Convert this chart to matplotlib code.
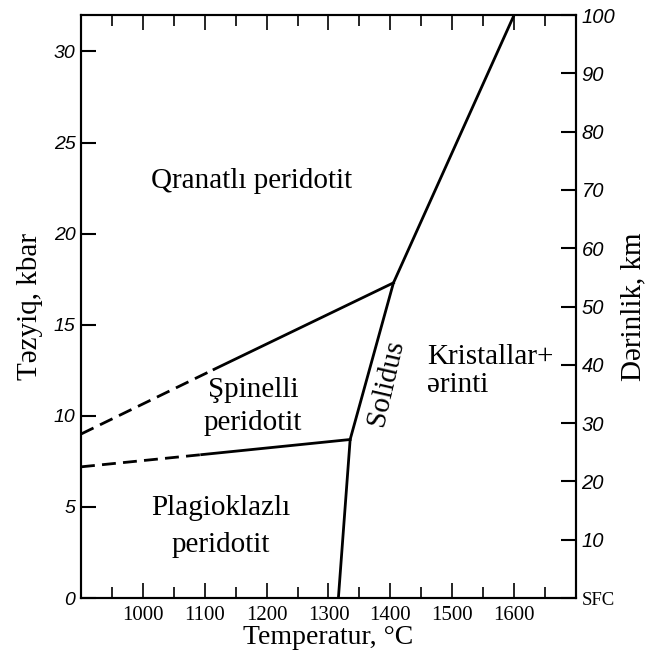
import matplotlib.pyplot as plt

# phase boundaries (T in C, P in kbar)
solidus_T = [1316, 1335, 1405, 1600]
solidus_P = [0, 8.7, 17.3, 32]

spinel_top_dash_T = [900, 1115]
spinel_top_dash_P = [9.0, 12.55]
spinel_top_T = [1115, 1405]
spinel_top_P = [12.55, 17.3]

plag_top_dash_T = [900, 1095]
plag_top_dash_P = [7.2, 7.87]
plag_top_T = [1095, 1335]
plag_top_P = [7.87, 8.7]

x_ticks = [1000, 1100, 1200, 1300, 1400, 1500, 1600]
x_minor = [950, 1050, 1150, 1250, 1350, 1450, 1550, 1650]
y_ticks = [0, 5, 10, 15, 20, 25, 30]
km_ticks = [0, 10, 20, 30, 40, 50, 60, 70, 80, 90, 100]
km_labels = ["SFC", "10", "20", "30", "40", "50", "60", "70", "80", "90", "100"]

serif = "Liberation Serif"
sans = "Liberation Sans"

fig = plt.figure(figsize=(6.46, 6.56), dpi=100)
ax = fig.add_axes([0.1254, 0.0884, 0.7662, 0.8887])

lw = 2.0
ax.plot(solidus_T, solidus_P, color="black", lw=lw, solid_joinstyle="miter")
ax.plot(spinel_top_T, spinel_top_P, color="black", lw=lw)
ax.plot(spinel_top_dash_T, spinel_top_dash_P, color="black", lw=lw, dashes=(5, 2.6))
ax.plot(plag_top_T, plag_top_P, color="black", lw=lw)
ax.plot(plag_top_dash_T, plag_top_dash_P, color="black", lw=lw, dashes=(5, 2.6))

ax.set_xlim(900, 1700)
ax.set_ylim(0, 32)

# region labels
fs = 21
ax.text(1175, 22.9, "Qranatlı peridotit", family=serif, style="normal", fontsize=fs,
        ha="center", va="center")
ax.text(1178, 10.5, "Şpinelli\nperidotit", family=serif, style="normal", fontsize=fs,
        ha="center", va="center", linespacing=1.35)
ax.text(1126, 3.95, "Plagioklazlı\nperidotit", family=serif, style="normal", fontsize=fs,
        ha="center", va="center", linespacing=1.55)
ax.text(1393, 11.8, "Solidus", family=serif, style="normal", fontsize=fs,
        ha="center", va="center", rotation=77)
ax.text(1460, 12.45, "Kristallar+\nərinti", family=serif, style="normal", fontsize=fs,
        ha="left", va="center", linespacing=1.1)

# axes styling
for s in ax.spines.values():
    s.set_linewidth(1.5)

ax.set_xticks(x_ticks)
ax.set_xticks(x_minor, minor=True)
ax.set_xticklabels([str(t) for t in x_ticks], family=serif, fontsize=15)
ax.set_yticks(y_ticks)
ax.set_yticklabels([str(t) for t in y_ticks], family=sans, style="italic", fontsize=14)
ax.tick_params(axis="x", which="major", direction="in", length=11, width=1.2, top=True, pad=6)
ax.tick_params(axis="x", which="minor", direction="in", length=8, width=1.2, top=True)
ax.tick_params(axis="y", which="major", direction="in", length=11, width=1.5, pad=4)

ax.set_xlabel("Temperatur, °C", family=serif, fontsize=20, labelpad=0)
ax.set_ylabel("Təzyiq, kbar", family=serif, fontsize=21, labelpad=8)

ax2 = ax.twinx()
ax2.set_ylim(0, 100)
ax2.set_yticks(km_ticks)
labels = ax2.set_yticklabels(km_labels, family=sans, style="italic", fontsize=14.5)
labels[0].set_family(serif)
labels[0].set_style("normal")
labels[0].set_fontsize(13.5)
ax2.tick_params(axis="y", direction="in", length=11, width=1.5, pad=4)
ax2.set_ylabel("Dərinlik, km", family=serif, fontsize=21, labelpad=4)
for s in ax2.spines.values():
    s.set_linewidth(1.5)

fig.savefig("out.png", dpi=100)
